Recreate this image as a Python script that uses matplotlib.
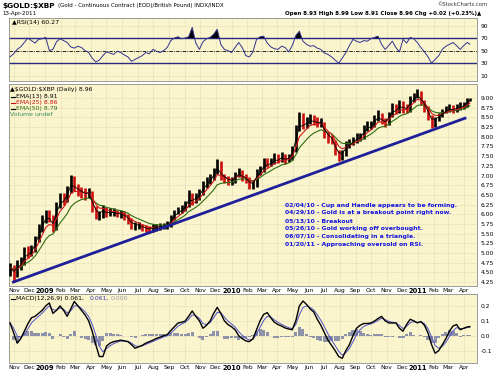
import numpy as np
import pandas as pd
import matplotlib
matplotlib.use("Agg")
import matplotlib.pyplot as plt
import matplotlib.dates as mdates
import matplotlib.transforms as mtransforms

# ---------------- data (weekly readings from the chart) ----------------
week_dates = list(pd.date_range("2008-10-24", "2011-04-08", freq="W-FRI")) + [pd.Timestamp("2011-04-13")]

close = [4.62, 4.45, 4.70, 4.75, 5.05, 5.00, 5.10, 5.35, 5.65, 5.85,
         6.05, 5.90, 5.65, 6.25, 6.45, 6.40, 6.60, 6.95, 6.70, 6.60,
         6.55, 6.50, 6.55, 6.15, 5.95, 5.95, 6.15, 6.00, 6.05, 6.05,
         6.00, 6.00, 5.95, 5.85, 5.70, 5.70, 5.70, 5.65, 5.62, 5.60,
         5.65, 5.68, 5.70, 5.70, 5.72, 5.90, 6.05, 6.10, 6.15, 6.25,
         6.50, 6.35, 6.45, 6.55, 6.75, 6.85, 6.95, 7.10, 7.35, 6.95,
         6.90, 6.85, 6.85, 7.00, 7.10, 6.95, 6.90, 6.75, 6.75, 7.10,
         7.15, 7.35, 7.30, 7.35, 7.45, 7.40, 7.50, 7.40, 7.45, 7.65,
         8.20, 8.55, 8.30, 8.40, 8.45, 8.40, 8.35, 8.35, 8.05, 7.95,
         7.90, 7.60, 7.45, 7.55, 7.80, 7.85, 7.90, 8.00, 8.00, 8.20,
         8.30, 8.30, 8.45, 8.60, 8.40, 8.35, 8.55, 8.75, 8.70, 8.85,
         8.75, 8.70, 8.95, 9.05, 9.15, 8.90, 8.75, 8.50, 8.30, 8.45,
         8.55, 8.65, 8.70, 8.75, 8.70, 8.75, 8.80, 8.80, 8.95, 8.96]

high = [4.75, 4.70, 4.82, 4.90, 5.15, 5.18, 5.20, 5.45, 5.75, 5.98,
        6.12, 6.10, 5.98, 6.32, 6.55, 6.55, 6.72, 7.02, 6.98, 6.78,
        6.70, 6.68, 6.68, 6.60, 6.22, 6.08, 6.25, 6.20, 6.15, 6.15,
        6.12, 6.10, 6.08, 6.00, 5.90, 5.80, 5.80, 5.76, 5.72, 5.70,
        5.74, 5.76, 5.78, 5.78, 5.82, 5.98, 6.12, 6.20, 6.25, 6.35,
        6.62, 6.55, 6.55, 6.65, 6.85, 6.95, 7.05, 7.20, 7.42, 7.38,
        7.05, 6.98, 6.95, 7.10, 7.20, 7.15, 7.05, 6.95, 6.88, 7.18,
        7.25, 7.45, 7.45, 7.45, 7.58, 7.55, 7.60, 7.55, 7.55, 7.75,
        8.30, 8.65, 8.60, 8.52, 8.58, 8.55, 8.50, 8.48, 8.38, 8.12,
        8.05, 7.92, 7.65, 7.65, 7.90, 7.95, 8.00, 8.10, 8.10, 8.30,
        8.40, 8.40, 8.55, 8.68, 8.62, 8.48, 8.65, 8.88, 8.85, 8.95,
        8.92, 8.85, 9.05, 9.12, 9.22, 9.18, 8.95, 8.80, 8.55, 8.52,
        8.62, 8.72, 8.80, 8.85, 8.82, 8.85, 8.90, 8.90, 9.00, 8.99]

low = [4.40, 4.25, 4.38, 4.55, 4.68, 4.88, 4.92, 5.02, 5.28, 5.55,
       5.78, 5.80, 5.55, 5.60, 6.15, 6.25, 6.32, 6.55, 6.60, 6.48,
       6.42, 6.38, 6.42, 6.05, 5.88, 5.85, 5.90, 5.92, 5.95, 5.95,
       5.92, 5.90, 5.86, 5.76, 5.62, 5.60, 5.62, 5.56, 5.54, 5.52,
       5.54, 5.58, 5.60, 5.62, 5.63, 5.68, 5.85, 6.00, 6.04, 6.08,
       6.20, 6.25, 6.30, 6.38, 6.50, 6.68, 6.78, 6.88, 7.05, 6.88,
       6.80, 6.76, 6.75, 6.80, 6.95, 6.85, 6.80, 6.65, 6.66, 6.70,
       7.02, 7.10, 7.22, 7.25, 7.30, 7.32, 7.35, 7.30, 7.35, 7.40,
       7.60, 8.15, 8.20, 8.22, 8.32, 8.30, 8.25, 8.25, 7.98, 7.85,
       7.80, 7.52, 7.38, 7.40, 7.50, 7.72, 7.78, 7.85, 7.90, 7.95,
       8.15, 8.20, 8.25, 8.40, 8.32, 8.25, 8.30, 8.50, 8.58, 8.62,
       8.62, 8.60, 8.65, 8.90, 9.00, 8.82, 8.65, 8.42, 8.22, 8.25,
       8.40, 8.50, 8.60, 8.65, 8.60, 8.65, 8.70, 8.72, 8.76, 8.91]

rsi = [40, 45, 52, 56, 63, 70, 66, 62, 68, 69,
       71, 50, 52, 64, 69, 66, 63, 56, 54, 57,
       55, 50, 47, 38, 32, 35, 42, 48, 46, 44,
       49, 47, 43, 40, 33, 36, 39, 42, 47, 45,
       52, 49, 47, 50, 55, 66, 70, 72, 69, 70,
       72, 87, 62, 52, 64, 69, 71, 76, 84, 60,
       52, 50, 47, 55, 63, 55, 42, 40, 48, 68,
       72, 73, 62, 56, 53, 52, 57, 55, 48, 58,
       74, 81, 65, 60, 57, 58, 54, 52, 46, 44,
       40, 35, 30, 38, 47, 58, 68, 65, 63, 66,
       65, 69, 71, 73, 60, 52, 58, 65, 55, 48,
       68, 62, 71, 69, 63, 55, 48, 40, 30, 36,
       42, 52, 57, 60, 63, 58, 52, 58, 63, 60.27]

macd = [0.086, 0.02, -0.05, -0.02, 0.03, 0.08, 0.12, 0.13, 0.15, 0.17,
        0.20, 0.22, 0.15, 0.17, 0.20, 0.17, 0.13, 0.18, 0.23, 0.20,
        0.17, 0.14, 0.10, 0.03, -0.06, -0.14, -0.14, -0.07, -0.05, -0.04,
        -0.035, -0.03, -0.035, -0.04, -0.06, -0.084, -0.075, -0.065, -0.05, -0.04,
        -0.03, -0.018, -0.01, 0.0, 0.007, 0.035, 0.06, 0.085, 0.09, 0.098,
        0.13, 0.166, 0.13, 0.10, 0.05, 0.07, 0.098, 0.15, 0.19, 0.15,
        0.10, 0.075, 0.06, 0.04, 0.00, -0.02, -0.035, -0.04, -0.02, 0.04,
        0.10, 0.143, 0.155, 0.12, 0.09, 0.075, 0.065, 0.052, 0.045, 0.04,
        0.10, 0.20, 0.233, 0.21, 0.18, 0.16, 0.11, 0.07, 0.02, -0.03,
        -0.065, -0.10, -0.14, -0.152, -0.10, -0.06, 0.00, 0.05, 0.07, 0.082,
        0.082, 0.085, 0.098, 0.115, 0.13, 0.10, 0.086, 0.085, 0.086, 0.05,
        0.03, 0.075, 0.11, 0.10, 0.086, 0.095, 0.07, 0.018, -0.06, -0.118,
        -0.10, -0.061, -0.02, 0.03, 0.065, 0.075, 0.04, 0.05, 0.059, 0.061]

trend_dates = [pd.Timestamp("2008-10-28"), pd.Timestamp("2011-04-06")]
trend_values = [4.24, 8.49]

notes = ["02/04/10 - Cup and Handle appears to be forming.",
         "04/29/10 - Gold is at a breakout point right now.",
         "05/13/10 - Breakout",
         "05/26/10 - Gold working off overbought.",
         "06/07/10 - Consolidating in a triangle.",
         "01/20/11 - Approaching oversold on RSI."]

price_ticks = [4.25, 4.50, 4.75, 5.00, 5.25, 5.50, 5.75, 6.00, 6.25, 6.50,
               6.75, 7.00, 7.25, 7.50, 7.75, 8.00, 8.25, 8.50, 8.75, 9.00]
rsi_ticks = [10, 30, 50, 70, 90]
macd_ticks = [-0.1, 0.0, 0.1, 0.2]

# ---------------- derived indicators ----------------
s_close = pd.Series(close)
ema13 = s_close.ewm(span=2.6, adjust=False).mean()
ema25 = s_close.ewm(span=5.0, adjust=False).mean()
ema50 = s_close.ewm(span=10.0, adjust=False).mean()
s_macd = pd.Series(macd)
signal = s_macd.ewm(span=2.8, adjust=False).mean()
hist = s_macd - signal

# ---------------- figure ----------------
W, H = 500, 374
fig = plt.figure(figsize=(5.0, 3.74), dpi=100)
fig.patch.set_facecolor("white")

def fx(x):
    return x / W

def fy(y):
    return 1 - y / H

BG = "#FAF5CD"
GRID = "#D2CDAA"
xl = (pd.Timestamp("2008-10-22"), pd.Timestamp("2011-04-27"))
month_starts = pd.date_range("2008-11-01", "2011-04-01", freq="MS")
month_labels = [str(d.year) if d.month == 1 else d.strftime("%b") for d in month_starts]

def style_axis(ax, ylim, yticks, ylabels, xlabels=True):
    ax.set_facecolor(BG)
    ax.set_xlim(xl)
    ax.set_ylim(ylim)
    ax.set_xticks(month_starts)
    ax.set_yticks(yticks)
    ax.set_yticklabels(ylabels)
    ax.yaxis.tick_right()
    ax.tick_params(axis="both", length=0, labelsize=4.3, pad=2.5, colors="black")
    ax.grid(True, color=GRID, lw=0.45, ls=(0, (1, 1)))
    for sp in ax.spines.values():
        sp.set_color("#8c8c8c")
        sp.set_linewidth(0.6)
    if xlabels:
        ax.set_xticklabels(month_labels)
        off = mtransforms.ScaledTranslation(3 / 100, 0, fig.dpi_scale_trans)
        for lab, txt in zip(ax.get_xticklabels(), month_labels):
            lab.set_transform(lab.get_transform() + off)
            if txt.isdigit():
                lab.set_fontweight("bold")
                lab.set_fontsize(4.8)
        ax.tick_params(axis="x", pad=1.5)
    else:
        ax.set_xticklabels([])

L, R = 9, 477
ax_rsi = fig.add_axes([fx(L), fy(81), fx(R - L), (81 - 18) / H])
ax_p = fig.add_axes([fx(L), fy(286), fx(R - L), (286 - 84) / H])
ax_m = fig.add_axes([fx(L), fy(362.5), fx(R - L), (362.5 - 294) / H])

# ---- RSI ----
style_axis(ax_rsi, (1.6, 102), rsi_ticks, [str(v) for v in rsi_ticks], xlabels=False)
rsi_arr = np.array(rsi, dtype=float)
ax_rsi.fill_between(week_dates, rsi_arr, 70, where=rsi_arr > 70, interpolate=True,
                    color="black", lw=0, zorder=3)
ax_rsi.axhline(70, color="#2a2a80", lw=1.0, zorder=2)
ax_rsi.axhline(30, color="#2a2a80", lw=1.0, zorder=2)
ax_rsi.axhline(50, color="black", lw=0.6, ls=(0, (4, 1.5, 1, 1.5)), zorder=2)
ax_rsi.plot(week_dates, rsi_arr, color="#32328f", lw=0.7, zorder=4)
ax_rsi.text(0.006, 0.97, "\u25b2RSI(14) 60.27", transform=ax_rsi.transAxes,
            fontsize=4.5, va="top", ha="left", color="black")

# ---- Price ----
style_axis(ax_p, (4.15, 9.36), price_ticks, ["%.2f" % v for v in price_ticks])
bar_colors = ["black"] + ["black" if close[i] >= close[i - 1] else "#cc1010" for i in range(1, len(close))]
ax_p.vlines(week_dates, low, high, colors=bar_colors, lw=1.9, zorder=3)
ax_p.plot(week_dates, ema50, color="#2f6b10", lw=0.8, zorder=4)
ax_p.plot(week_dates, ema25, color="#d01818", lw=0.8, zorder=4)
ax_p.plot(week_dates, ema13, color="black", lw=0.6, zorder=4)
ax_p.plot(trend_dates, trend_values, color="#1f1f9a", lw=2.0, zorder=5,
          solid_capstyle="butt")

for k, note in enumerate(notes):
    fig.text(fx(285), fy(205 + 7.8 * k), note, fontsize=4.4, fontweight="bold",
             color="#1515e0", va="center", ha="left")

leg = [("\u25b2\\$GOLD:\\$XBP (Daily) 8.96", "black", None),
       ("EMA(13) 8.91", "black", "black"),
       ("EMA(25) 8.86", "#cc1010", "#cc1010"),
       ("EMA(50) 8.79", "#2f6b10", "black"),
       ("Volume undef", "#2f8a5a", None)]
ys = [90, 96.5, 102.5, 108.5, 114.5]
for (txt, col, dash), yy in zip(leg, ys):
    if dash is not None:
        fig.add_artist(plt.Line2D([fx(11), fx(15)], [fy(yy), fy(yy)], color=dash, lw=0.8))
        fig.text(fx(15.5), fy(yy), txt, fontsize=4.4, color=col, va="center", ha="left")
    else:
        fig.text(fx(10.5), fy(yy), txt, fontsize=4.4, color=col, va="center", ha="left")

# ---- MACD ----
style_axis(ax_m, (-0.18, 0.28), macd_ticks, ["-0.1", "0.0", "0.1", "0.2"])
ax_m.bar(week_dates, hist, width=6, color="#8e93aa", lw=0, zorder=2)
ax_m.plot(week_dates, signal, color="#5050c8", lw=0.7, zorder=3)
ax_m.plot(week_dates, macd, color="black", lw=1.0, zorder=4)
fig.add_artist(plt.Line2D([fx(11), fx(15)], [fy(298.5), fy(298.5)], color="black", lw=0.8))
fig.text(fx(15.5), fy(298.5), "MACD(12,26,9) 0.061,", fontsize=4.4,
         color="black", va="center", ha="left")
fig.text(fx(90), fy(298.5), "0.061,", fontsize=4.4, color="#4040c0", va="center", ha="left")
fig.text(fx(111), fy(298.5), "0.000", fontsize=4.4, color="#9a9aa8", va="center", ha="left")

# ---- header ----
fig.text(fx(2), fy(6), "\\$GOLD:\\$XBP", fontsize=5.3, fontweight="bold",
         va="center", ha="left", color="black")
fig.text(fx(58), fy(6), "(Gold - Continuous Contract (EOD)/British Pound) INDX/INDX",
         fontsize=4.0, va="center", ha="left", color="black")
fig.text(fx(2), fy(13.5), "13-Apr-2011", fontsize=4.0, va="center", ha="left", color="black")
fig.text(fx(487), fy(5), "\u00a9StockCharts.com", fontsize=3.8, va="center", ha="right",
         color="#333333")
fig.text(fx(481), fy(14), "Open 8.93 High 8.99 Low 8.91 Close 8.96 Chg +0.02 (+0.23%)\u25b2",
         fontsize=4.0, va="center", ha="right", color="black", fontweight="bold")

fig.savefig("out.png", dpi=100, facecolor="white")
